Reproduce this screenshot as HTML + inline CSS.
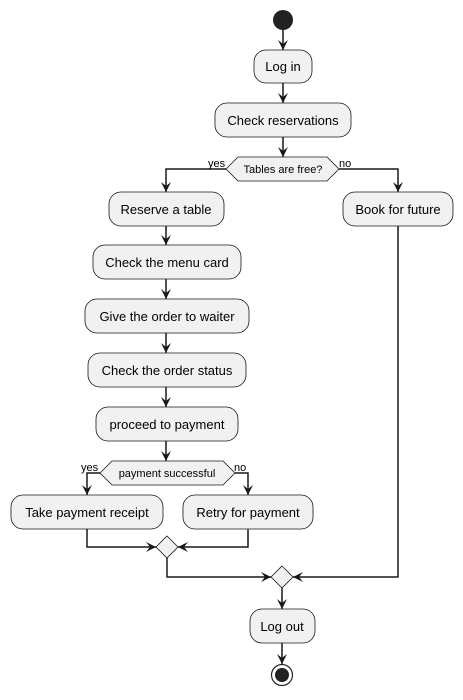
<!DOCTYPE html>
<html><head><meta charset="utf-8"><style>body{margin:0;background:#fff}</style></head><body>
<svg width="463" height="695" xmlns="http://www.w3.org/2000/svg" font-family="Liberation Sans, DejaVu Sans, sans-serif">
<defs><marker id="a" viewBox="0 0 10 10" refX="10" refY="5" markerWidth="10" markerHeight="10" orient="auto" markerUnits="userSpaceOnUse"><path d="M0,0 L10,5 L0,10 L4,5 Z" fill="#181818"/></marker></defs>
<g stroke="#181818" stroke-width="1.5" fill="none" marker-end="url(#a)">
<path d="M283,30 V50"/><path d="M283,83 V103"/><path d="M283,137 V157"/>
<path d="M226,169 H166 V192"/><path d="M339,169 H398 V192"/>
<path d="M166,226 V245"/><path d="M166,279 V299"/><path d="M166,333 V353"/><path d="M166,387 V407"/><path d="M166,441 V461"/>
<path d="M100,473 H87 V495"/><path d="M235,473 H248 V495"/>
<path d="M87,529 V547 H156"/><path d="M248,529 V547 H178"/>
<path d="M167,558 V577 H271"/><path d="M398,226 V577 H293"/>
<path d="M282,588 V609"/><path d="M282,643 V664"/>
</g>
<circle cx="283" cy="20" r="10" fill="#222"/>
<g fill="#f1f1f1" stroke="#181818" stroke-width="0.8">
<rect x="254" y="50" width="58" height="33" rx="12"/>
<rect x="215" y="103" width="136" height="34" rx="12"/>
<polygon points="226,169 238,157 327,157 339,169 327,181 238,181"/>
<rect x="109" y="192" width="115" height="34" rx="12"/>
<rect x="343" y="192" width="110" height="34" rx="12"/>
<rect x="93" y="245" width="148" height="34" rx="12"/>
<rect x="85" y="299" width="164" height="34" rx="12"/>
<rect x="88" y="353" width="158" height="34" rx="12"/>
<rect x="96" y="407" width="142" height="34" rx="12"/>
<polygon points="100,473 112,461 223,461 235,473 223,485 112,485"/>
<rect x="11" y="495" width="152" height="34" rx="12"/>
<rect x="183" y="495" width="130" height="34" rx="12"/>
<polygon points="167,536 178,547 167,558 156,547"/>
<polygon points="282,566 293,577 282,588 271,577"/>
<rect x="250" y="609" width="65" height="34" rx="12"/>
</g>
<circle cx="282" cy="675" r="10.5" fill="none" stroke="#222" stroke-width="1.2"/>
<circle cx="282" cy="675" r="7" fill="#222"/>
<g font-size="13" fill="#000" text-anchor="middle">
<text x="283" y="71">Log in</text>
<text x="283" y="125">Check reservations</text>
<text x="166" y="214">Reserve a table</text>
<text x="398" y="214">Book for future</text>
<text x="167" y="267">Check the menu card</text>
<text x="167" y="321">Give the order to waiter</text>
<text x="167" y="375">Check the order status</text>
<text x="167" y="429">proceed to payment</text>
<text x="87" y="517">Take payment receipt</text>
<text x="248" y="517">Retry for payment</text>
<text x="282" y="631">Log out</text>
</g>
<g font-size="11" fill="#000">
<text x="283" y="173" text-anchor="middle">Tables are free?</text>
<text x="167" y="477" text-anchor="middle">payment successful</text>
<text x="208" y="167">yes</text><text x="339" y="167">no</text>
<text x="81" y="471">yes</text><text x="234" y="471">no</text>
</g>
</svg>
</body></html>
